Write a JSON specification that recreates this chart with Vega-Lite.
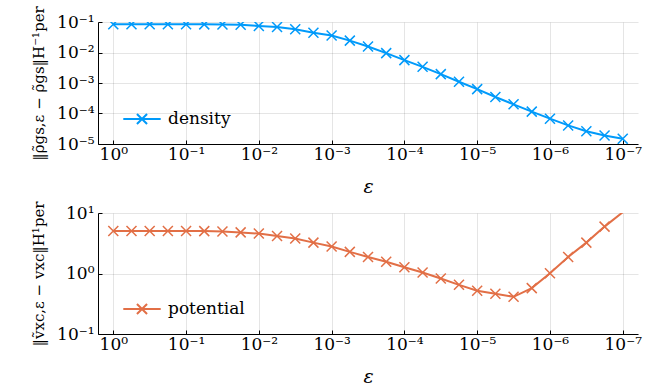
{
  "$schema": "https://vega.github.io/schema/vega-lite/v6.json",
  "padding": {"left": 31, "top": 5, "right": 5, "bottom": 0},
  "background": "white",
  "datasets": {
    "d": [
      {"eps": 1, "density": 0.0838, "potential": 5.05},
      {"eps": 0.5623413, "density": 0.0838, "potential": 5.05},
      {"eps": 0.3162278, "density": 0.0838, "potential": 5.05},
      {"eps": 0.1778279, "density": 0.0838, "potential": 5.05},
      {"eps": 0.1, "density": 0.0838, "potential": 5.04},
      {"eps": 0.05623413, "density": 0.0836, "potential": 5.02},
      {"eps": 0.03162278, "density": 0.0832, "potential": 4.95},
      {"eps": 0.01778279, "density": 0.0817, "potential": 4.78},
      {"eps": 0.01, "density": 0.0741, "potential": 4.57},
      {"eps": 0.005623413, "density": 0.0684, "potential": 4.17},
      {"eps": 0.003162278, "density": 0.0575, "potential": 3.78},
      {"eps": 0.001778279, "density": 0.0447, "potential": 3.24},
      {"eps": 0.001, "density": 0.0363, "potential": 2.79},
      {"eps": 0.0005623413, "density": 0.0245, "potential": 2.28},
      {"eps": 0.0003162278, "density": 0.0158, "potential": 1.88},
      {"eps": 0.0001778279, "density": 0.00955, "potential": 1.56},
      {"eps": 0.0001, "density": 0.00562, "potential": 1.27},
      {"eps": 0.00005623413, "density": 0.00339, "potential": 1.04},
      {"eps": 0.00003162278, "density": 0.00195, "potential": 0.828},
      {"eps": 0.00001778279, "density": 0.0011, "potential": 0.65},
      {"eps": 0.00001, "density": 0.00063, "potential": 0.518},
      {"eps": 0.000005623413, "density": 0.000347, "potential": 0.462},
      {"eps": 0.000003162278, "density": 0.0002, "potential": 0.412},
      {"eps": 0.000001778279, "density": 0.000115, "potential": 0.573},
      {"eps": 0.000001, "density": 0.0000676, "potential": 1.01},
      {"eps": 5.623413e-7, "density": 0.0000407, "potential": 1.88},
      {"eps": 3.162278e-7, "density": 0.0000263, "potential": 3.24},
      {"eps": 1.778279e-7, "density": 0.0000191, "potential": 5.96},
      {"eps": 1e-7, "density": 0.0000148, "potential": 10.3}
    ]
  },
  "config": {
    "font": "DejaVu Serif",
    "view": {"stroke": null},
    "axis": {
      "domainColor": "#000000",
      "domainWidth": 1,
      "tickColor": "#000000",
      "tickSize": -4,
      "gridColor": "#000000",
      "gridOpacity": 0.1,
      "gridWidth": 1,
      "labelFont": "DejaVu Serif",
      "labelFontSize": 17,
      "labelColor": "#000000",
      "titleFont": "DejaVu Serif",
      "titleColor": "#000000",
      "titleFontWeight": "normal"
    },
    "legend": {
      "labelFont": "DejaVu Serif",
      "labelFontSize": 17,
      "labelColor": "#000000"
    }
  },
  "spacing": 4,
  "vconcat": [
    {
      "width": 540,
      "height": 122,
      "data": {"name": "d"},
      "layer": [
        {
          "mark": {"type": "line", "strokeWidth": 2, "clip": true},
          "encoding": {
            "x": {
              "field": "eps", "type": "quantitative",
              "scale": {"type": "log", "domain": [6.17e-8, 1.622], "reverse": true, "nice": false},
              "axis": {
                "values": [1, 0.1, 0.01, 0.001, 0.0001, 0.00001, 0.000001, 1e-7],
                "labelExpr": "['10⁰','10⁻¹','10⁻²','10⁻³','10⁻⁴','10⁻⁵','10⁻⁶','10⁻⁷'][round(-log(datum.value)/LN10)]",
                "title": "ε",
                "titleFontStyle": "italic",
                "titleFontSize": 19,
                "titlePadding": 15,
                "labelPadding": 6,
                "labelFlush": false
              }
            },
            "y": {
              "field": "density", "type": "quantitative",
              "scale": {"type": "log", "domain": [0.00001, 0.1], "nice": false},
              "axis": {
                "values": [0.1, 0.01, 0.001, 0.0001, 0.00001],
                "labelExpr": "['10⁰','10⁻¹','10⁻²','10⁻³','10⁻⁴','10⁻⁵','10⁻⁶','10⁻⁷'][round(-log(datum.value)/LN10)]",
                "title": "‖ρ̃gs,ε − ρ̃gs‖H⁻¹per",
                "titleFontSize": 15,
                "titlePadding": 10,
                "labelPadding": 8,
                "labelFlush": false
              }
            },
            "color": {
              "datum": "density",
              "scale": {"domain": ["density"], "range": ["#009AFA"]},
              "legend": {
                "title": null,
                "orient": "none",
                "legendX": 24,
                "legendY": 77,
                "symbolType": "M-1,0L1,0M-0.27,-0.27L0.27,0.27M-0.27,0.27L0.27,-0.27",
                "symbolSize": 1400,
                "symbolStrokeWidth": 2,
                "symbolFillColor": "transparent",
                "labelOffset": 6
              }
            }
          }
        },
        {
          "mark": {"type": "point", "shape": "M-1,-1L1,1M-1,1L1,-1", "filled": false, "size": 100, "strokeWidth": 1.5, "color": "#009AFA", "opacity": 1, "clip": true},
          "encoding": {
            "x": {"field": "eps", "type": "quantitative"},
            "y": {"field": "density", "type": "quantitative"}
          }
        }
      ]
    },
    {
      "width": 540,
      "height": 121,
      "data": {"name": "d"},
      "layer": [
        {
          "mark": {"type": "line", "strokeWidth": 2, "clip": true},
          "encoding": {
            "x": {
              "field": "eps", "type": "quantitative",
              "scale": {"type": "log", "domain": [6.17e-8, 1.622], "reverse": true, "nice": false},
              "axis": {
                "values": [1, 0.1, 0.01, 0.001, 0.0001, 0.00001, 0.000001, 1e-7],
                "labelExpr": "['10⁰','10⁻¹','10⁻²','10⁻³','10⁻⁴','10⁻⁵','10⁻⁶','10⁻⁷'][round(-log(datum.value)/LN10)]",
                "title": "ε",
                "titleFontStyle": "italic",
                "titleFontSize": 19,
                "titlePadding": 15,
                "labelPadding": 6,
                "labelFlush": false
              }
            },
            "y": {
              "field": "potential", "type": "quantitative",
              "scale": {"type": "log", "domain": [0.1, 10], "nice": false},
              "axis": {
                "values": [10, 1, 0.1],
                "labelExpr": "datum.value >= 5 ? '10¹' : datum.value >= 0.5 ? '10⁰' : '10⁻¹'",
                "title": "‖ṽxc,ε − vxc‖H¹per",
                "titleFontSize": 15,
                "titlePadding": 10,
                "labelPadding": 8,
                "labelFlush": false
              }
            },
            "color": {
              "datum": "potential",
              "scale": {"domain": ["potential"], "range": ["#E26F46"]},
              "legend": {
                "title": null,
                "orient": "none",
                "legendX": 24,
                "legendY": 76,
                "symbolType": "M-1,0L1,0M-0.27,-0.27L0.27,0.27M-0.27,0.27L0.27,-0.27",
                "symbolSize": 1400,
                "symbolStrokeWidth": 2,
                "symbolFillColor": "transparent",
                "labelOffset": 6
              }
            }
          }
        },
        {
          "transform": [{"filter": "datum.potential <= 10"}],
          "mark": {"type": "point", "shape": "M-1,-1L1,1M-1,1L1,-1", "filled": false, "size": 100, "strokeWidth": 1.5, "color": "#E26F46", "opacity": 1, "clip": true},
          "encoding": {
            "x": {"field": "eps", "type": "quantitative"},
            "y": {"field": "potential", "type": "quantitative"}
          }
        }
      ]
    }
  ],
  "resolve": {"scale": {"color": "independent", "y": "independent", "x": "independent"}}
}
